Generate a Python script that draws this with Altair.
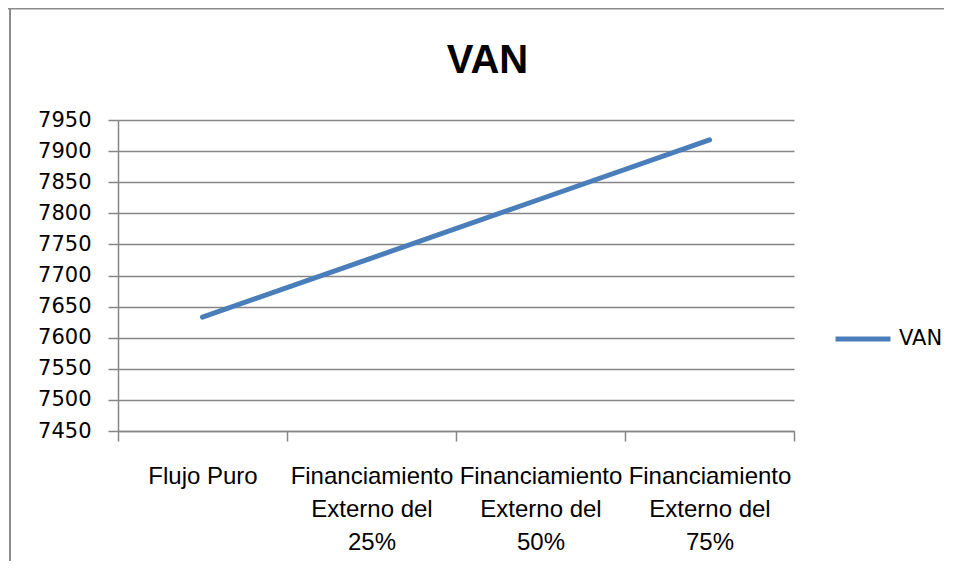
import altair as alt
import pandas as pd

categorias = [
    "Flujo Puro",
    "Financiamiento Externo del 25%",
    "Financiamiento Externo del 50%",
    "Financiamiento Externo del 75%",
]
van = [7633, 7728, 7823, 7918]
serie = ["VAN"] * 4
ticks_y = [7450, 7500, 7550, 7600, 7650, 7700, 7750, 7800, 7850, 7900, 7950]

df = pd.DataFrame({"Categoria": categorias, "VAN": van, "Serie": serie})

W, H = 676, 311
PL, PT, PR, PB = 110, 112, 150, 130

base = alt.Chart(df)

line = base.mark_line(strokeWidth=5, strokeCap="round", strokeJoin="round").encode(
    x=alt.X(
        "Categoria:N",
        sort=categorias,
        bandPosition=0.5,
        scale=alt.Scale(type="band", paddingInner=0, paddingOuter=0),
        axis=alt.Axis(
            title=None,
            labelAngle=0,
            tickBand="extent",
            tickSize=10,
            tickColor="#868686",
            domainColor="#868686",
            domainWidth=1.5,
            tickWidth=1.5,
            labelFont="Liberation Sans",
            labelFontSize=24,
            labelColor="#000000",
            labelLineHeight=33,
            labelPadding=23,
            labelBaseline="top",
            labelAlign="center",
            labelExpr="length(datum.label) > 12 ? [slice(datum.label, 0, 14), slice(datum.label, 15, 26), slice(datum.label, 27)] : datum.label",
            grid=False,
        ),
    ),
    y=alt.Y(
        "VAN:Q",
        scale=alt.Scale(domain=[7450, 7950], nice=False, zero=False),
        axis=alt.Axis(
            title=None,
            values=ticks_y,
            tickSize=10,
            tickColor="#868686",
            tickWidth=1.5,
            domainColor="#868686",
            domainWidth=1.5,
            gridColor="#868686",
            gridWidth=1.5,
            labelFont="DejaVu Sans",
            labelFontSize=21,
            labelColor="#000000",
            labelPadding=17,
            format="d",
        ),
    ),
    color=alt.Color(
        "Serie:N",
        scale=alt.Scale(domain=["VAN"], range=["#4a7ebb"]),
        legend=alt.Legend(
            title=None,
            orient="none",
            legendX=715,
            legendY=189,
            symbolType="stroke",
            symbolSize=3025,
            symbolStrokeWidth=5,
            labelFont="DejaVu Sans",
            labelFontSize=21,
            labelColor="#000000",
            labelOffset=6,
            padding=0,
        ),
    ),
)

titulo = alt.Chart(pd.DataFrame({"t": ["VAN"]})).mark_text(
    font="Liberation Sans",
    fontSize=40,
    fontWeight="bold",
    color="#000000",
    align="center",
    baseline="alphabetic",
).encode(x=alt.value(369.5), y=alt.value(-47), text="t:N")

marco_df = pd.DataFrame({"k": [1]})
marco_sup = alt.Chart(marco_df).mark_rule(color="#8c8c8c", strokeWidth=2).encode(
    x=alt.value(-PL), x2=alt.value(W + PR), y=alt.value(-PT + 0.5)
)
marco_izq = alt.Chart(marco_df).mark_rule(color="#8c8c8c", strokeWidth=2).encode(
    x=alt.value(-108), y=alt.value(-PT), y2=alt.value(H + PB)
)

chart = (
    alt.layer(line, titulo, marco_sup, marco_izq)
    .properties(
        width=W,
        height=H,
        autosize=alt.AutoSizeParams(type="none"),
        padding={"left": PL, "top": PT, "right": PR, "bottom": PB},
        background="#ffffff",
    )
    .configure_view(stroke=None)
)

chart.save("out.html", embed_options={"renderer": "svg", "actions": False})
